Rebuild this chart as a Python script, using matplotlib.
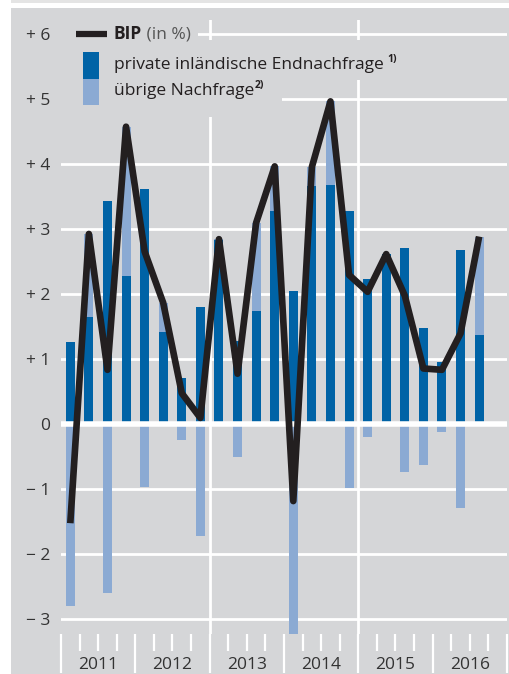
import matplotlib
matplotlib.use("Agg")
import matplotlib.pyplot as plt
from matplotlib.patches import Rectangle
from matplotlib.lines import Line2D
import numpy as np

# ---- data ----
years = ["2011", "2012", "2013", "2014", "2015", "2016"]
bip = [-1.52, 2.93, 0.84, 4.58, 2.66, 1.87, 0.48, 0.10,
       2.85, 0.78, 3.10, 3.97, -1.18, 3.96, 4.97, 2.30,
       2.04, 2.62, 1.98, 0.86, 0.84, 1.40, 2.89]
private = [1.27, 1.66, 3.44, 2.29, 3.62, 1.42, 0.72, 1.81,
           2.84, 1.28, 1.74, 3.29, 2.05, 3.67, 3.68, 3.28,
           2.23, 2.62, 2.72, 1.49, 0.96, 2.68, 1.38]
other = [-2.79, 1.27, -2.60, 2.29, -0.96, 0.45, -0.24, -1.71,
         0.01, -0.50, 1.36, 0.68, -3.23, 0.29, 1.29, -0.98,
         -0.19, 0.0, -0.74, -0.63, -0.12, -1.28, 1.51]
yticks = [-3, -2, -1, 0, 1, 2, 3, 4, 5, 6]
ytick_labels = ["\u2212 3", "\u2212 2", "\u2212 1", "0", "+ 1", "+ 2", "+ 3", "+ 4", "+ 5", "+ 6"]

# ---- styles ----
GRAY = "#D5D6D8"
DARK = "#0063A6"
LIGHT = "#8BAAD3"
LINEC = "#231F20"
TXT = "#333333"
FS = 12.5
FONT = ["Open Sans", "DejaVu Sans"]
plt.rcParams["font.family"] = FONT

W, H = 510, 674
fig = plt.figure(figsize=(W / 100, H / 100), dpi=100)
fig.patch.set_facecolor("white")
fig.add_artist(Rectangle((11 / W, 0), (W - 11) / W, (H - 8) / H,
                         transform=fig.transFigure, facecolor=GRAY, edgecolor="none", zorder=-10))
fig.add_artist(Rectangle((11 / W, (H - 2.5) / H), (W - 11) / W, 2.5 / H,
                         transform=fig.transFigure, facecolor="#E4E4E4", edgecolor="none", zorder=-10))

L, R, T, B = 61, 507, 20, 634
ax = fig.add_axes([L / W, 1 - B / H, (R - L) / W, (B - T) / H])
ax.set_facecolor(GRAY)
for s in ax.spines.values():
    s.set_visible(False)

n = len(bip)
x = np.arange(n)
ax.set_xlim(-0.5, n + 0.5)
ax.set_ylim(-3.225, 6.222)

# gridlines
for v in yticks:
    if v != 0:
        ax.axhline(v, color="white", lw=2.0, zorder=1)
ax.axhline(0, color="white", lw=4.0, zorder=3)
for xv in [7.5, 15.5]:
    ax.axvline(xv, color="white", lw=2.0, zorder=1)

# bars
bw = 0.48
priv = np.array(private)
oth = np.array(other)
ax.bar(x, priv, width=bw, color=DARK, zorder=2, linewidth=0)
bottoms = np.where(oth > 0, priv, 0)
ax.bar(x, oth, width=bw, bottom=bottoms, color=LIGHT, zorder=2, linewidth=0)

# line
ax.plot(x, bip, color=LINEC, lw=4.8, zorder=6, solid_capstyle="butt", solid_joinstyle="round")

# y ticks
ax.set_yticks(yticks)
ax.set_yticklabels(ytick_labels)
ax.tick_params(axis="y", length=0, pad=8, labelsize=FS, labelcolor=TXT)

# x ticks
ax.set_xticks(np.arange(-0.5, n + 1, 4))
ax.set_xticks(np.arange(-0.5, n + 1, 1), minor=True)
ax.set_xticklabels([])
ax.tick_params(axis="x", which="major", length=28, width=1.6, color="white", direction="out")
ax.tick_params(axis="x", which="minor", length=12, width=1.6, color="white", direction="out")
trans = ax.get_xaxis_transform()
for i, yr in enumerate(years):
    ax.text(i * 4 + 1.5, -(665 - B) / (B - T), yr, transform=trans, ha="center", va="center",
            fontsize=FS, color=TXT)

# ---- legend (drawn manually) ----
def P(px, py):
    return ((px - L) / (R - L), (B - py) / (B - T))

def mask(x0, y0, x1, y1):
    a = P(x0, y1)
    b = P(x1, y0)
    ax.add_patch(Rectangle(a, b[0] - a[0], b[1] - a[1], transform=ax.transAxes,
                           facecolor=GRAY, edgecolor="none", zorder=4, clip_on=False))

mask(61, 22, 198, 46)
mask(61, 40, 396, 80)
mask(61, 78, 282, 117)

p0, p1 = P(76, 34), P(107, 34)
ax.add_line(Line2D([p0[0], p1[0]], [p0[1], p1[1]], transform=ax.transAxes, color=LINEC,
                   lw=4.5, solid_capstyle="butt", zorder=5, clip_on=False))
a = P(83, 79)
b = P(99, 52)
ax.add_patch(Rectangle(a, b[0] - a[0], b[1] - a[1], transform=ax.transAxes,
                       facecolor=DARK, edgecolor="none", zorder=5, clip_on=False))
a = P(83, 105)
b = P(99, 79)
ax.add_patch(Rectangle(a, b[0] - a[0], b[1] - a[1], transform=ax.transAxes,
                       facecolor=LIGHT, edgecolor="none", zorder=5, clip_on=False))

t1 = ax.text(*P(114, 34), "BIP", transform=ax.transAxes, ha="left", va="center",
             fontsize=FS, fontweight="bold", color="#231F20", zorder=5)
ax.annotate(" (in %)", xy=(1, 0), xycoords=t1, ha="left", va="bottom",
            fontsize=FS, color="#555555", zorder=5)
t2 = ax.text(*P(114, 65), "private inländische Endnachfrage", transform=ax.transAxes,
             ha="left", va="center", fontsize=FS, color="#231F20", zorder=5)
ax.annotate("1)", xy=(1, 0.5), xycoords=t2, xytext=(2.5, 0), textcoords="offset points",
            ha="left", va="bottom", fontsize=7.5, fontweight="bold", color="#231F20", zorder=5)
t3 = ax.text(*P(114, 91), "übrige Nachfrage", transform=ax.transAxes,
             ha="left", va="center", fontsize=FS, color="#231F20", zorder=5)
ax.annotate("2)", xy=(1, 0.5), xycoords=t3, xytext=(0.5, 0), textcoords="offset points",
            ha="left", va="bottom", fontsize=7.5, fontweight="bold", color="#231F20", zorder=5)

fig.savefig("out.png", dpi=100, facecolor=fig.get_facecolor())
